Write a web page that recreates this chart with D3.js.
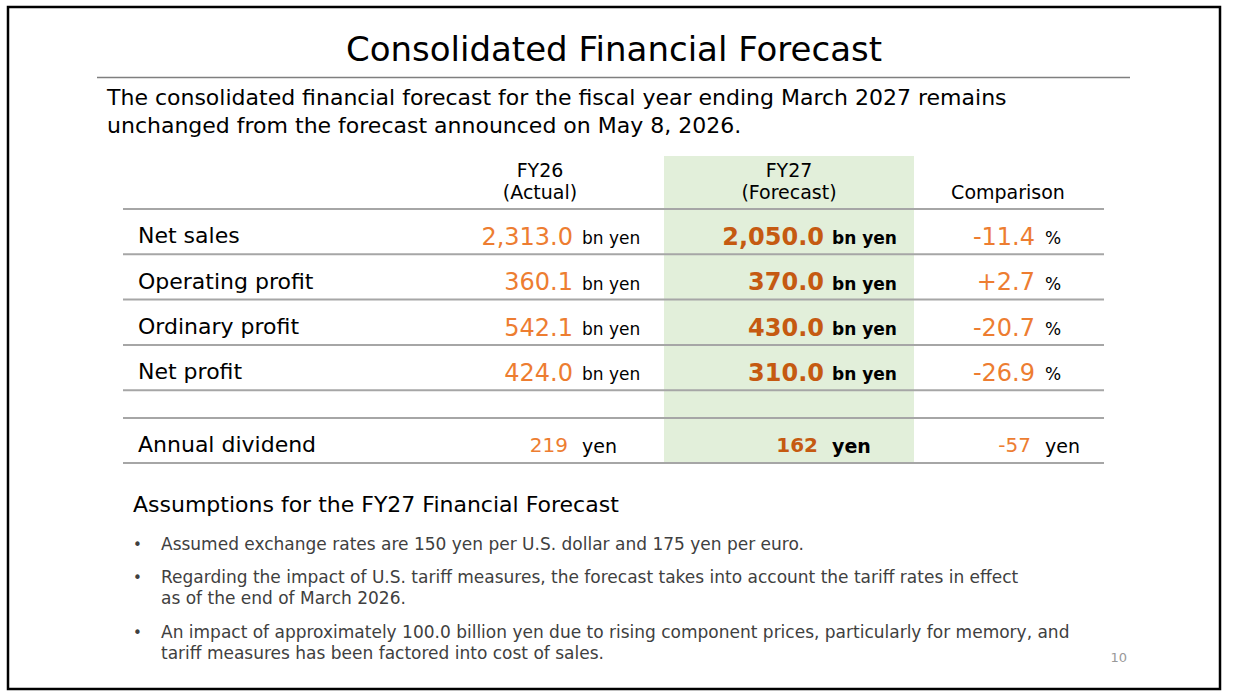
<!DOCTYPE html>
<html>
<head>
<meta charset="utf-8">
<script src="https://cdn.jsdelivr.net/npm/d3@7"></script>
<style>
  html, body { margin: 0; padding: 0; background: #fff; }
  svg { display: block; font-family: "DejaVu Sans", "Verdana", sans-serif; }
</style>
</head>
<body>
<div id="chart"></div>
<script>
// data
const title = "Consolidated Financial Forecast";
const subtitleLines = [
  "The consolidated financial forecast for the fiscal year ending March 2027 remains",
  "unchanged from the forecast announced on May 8, 2026.",
];
const columnKeys = ["fy26", "fy27", "cmp"];
const columnHeaders = [["FY26", "(Actual)"], ["FY27", "(Forecast)"], ["Comparison"]];
const metrics = ["Net sales", "Operating profit", "Ordinary profit", "Net profit"];
const fy26Values = [2313.0, 360.1, 542.1, 424.0];
const fy27Values = [2050.0, 370.0, 430.0, 310.0];
const comparisonPct = [-11.4, 2.7, -20.7, -26.9];
const metricUnits = ["bn yen", "bn yen", "%"];
const dividendLabel = "Annual dividend";
const dividendValues = [219, 162, -57];
const dividendUnit = "yen";
const assumptionsTitle = "Assumptions for the FY27 Financial Forecast";
const assumptions = [
  ["Assumed exchange rates are 150 yen per U.S. dollar and 175 yen per euro."],
  ["Regarding the impact of U.S. tariff measures, the forecast takes into account the tariff rates in effect",
   "as of the end of March 2026."],
  ["An impact of approximately 100.0 billion yen due to rising component prices, particularly for memory, and",
   "tariff measures has been factored into cost of sales."],
];
const pageNumber = "10";

const orange = "#ed7d31";
const darkOrange = "#c55a11";
const green = "#e2efda";
const lineGray = "#a6a6a6";

const width = 1238;
const height = 697;

const locale = d3.formatLocale({ decimal: ".", thousands: ",", grouping: [3], currency: ["", ""], minus: "-" });
const fmtValue = locale.format(",.1f");
const fmtPct = locale.format("+.1f");
const fmtInt = locale.format("d");

const svg = d3.select("#chart").append("svg")
  .attr("width", width)
  .attr("height", height);

// frame
svg.append("rect")
  .attr("x", 8).attr("y", 7)
  .attr("width", 1212).attr("height", 682)
  .attr("fill", "#fff")
  .attr("stroke", "#000")
  .attr("stroke-width", 2.5);

// title
svg.append("text")
  .attr("x", 614).attr("y", 61)
  .attr("text-anchor", "middle")
  .style("font-size", "34px")
  .attr("fill", "#000")
  .text(title);

svg.append("line")
  .attr("x1", 97).attr("x2", 1130)
  .attr("y1", 77.5).attr("y2", 77.5)
  .attr("stroke", "#7f7f7f").attr("stroke-width", 1.5);

svg.append("g")
  .selectAll("text")
  .data(subtitleLines)
  .join("text")
  .attr("x", 107)
  .attr("y", (d, i) => 105 + i * 28)
  .style("font-size", "22px")
  .attr("fill", "#000")
  .text((d) => d);

// table scales
const rowScale = d3.scaleLinear().domain([0, 1]).range([209, 254.3]);
const dividendTop = 418;
const dividendBottom = 463;

// value right edge / unit start per column
const valueEnd = d3.scaleOrdinal().domain(columnKeys).range([573, 824, 1035]);
const unitStart = d3.scaleOrdinal().domain(columnKeys).range([582, 832, 1045]);
const headerX = d3.scaleOrdinal().domain(columnKeys).range([540, 789, 1008]);

const table = svg.append("g");

// green forecast column
table.append("rect")
  .attr("x", 664).attr("width", 250)
  .attr("y", 156).attr("height", dividendBottom - 156)
  .attr("fill", green);

// headers
const headers = table.append("g")
  .selectAll("text")
  .data(columnKeys)
  .join("text")
  .attr("x", (d) => headerX(d))
  .attr("text-anchor", "middle")
  .style("font-size", "19px")
  .attr("fill", "#000");

headers.selectAll("tspan")
  .data((d, i) => columnHeaders[i].map((t, j, arr) => ({ t, j, n: arr.length, key: d })))
  .join("tspan")
  .attr("x", (d) => headerX(d.key))
  .attr("y", (d) => (d.n === 1 ? 199 : 177 + d.j * 22))
  .text((d) => d.t);

// horizontal rules
const ruleYs = d3.range(0, metrics.length + 1).map((i) => rowScale(i)).concat([dividendTop, dividendBottom]);
table.append("g")
  .selectAll("line")
  .data(ruleYs)
  .join("line")
  .attr("x1", 123).attr("x2", 1104)
  .attr("y1", (d) => d).attr("y2", (d) => d)
  .attr("stroke", lineGray)
  .attr("stroke-width", 2);

// metric rows
const rows = metrics.map((m, i) => ({
  label: m,
  cy: (rowScale(i) + rowScale(i + 1)) / 2 + 5,
  cells: [
    { key: "fy26", text: fmtValue(fy26Values[i]), unit: metricUnits[0] },
    { key: "fy27", text: fmtValue(fy27Values[i]), unit: metricUnits[1] },
    { key: "cmp", text: fmtPct(comparisonPct[i]), unit: metricUnits[2] },
  ],
}));

const rowG = table.append("g")
  .selectAll("g")
  .data(rows)
  .join("g")
  .attr("transform", (d) => `translate(0,${d.cy})`);

rowG.append("text")
  .attr("x", 138)
  .attr("dy", "0.3em")
  .style("font-size", "22px")
  .attr("fill", "#000")
  .text((d) => d.label);

const cell = rowG.selectAll("g.cell")
  .data((d) => d.cells)
  .join("g")
  .attr("class", "cell");

cell.append("text")
  .attr("x", (d) => valueEnd(d.key))
  .attr("dy", "0.35em")
  .attr("text-anchor", "end")
  .style("font-size", "24px")
  .style("font-weight", (d) => (d.key === "fy27" ? "bold" : "normal"))
  .attr("fill", (d) => (d.key === "fy27" ? darkOrange : orange))
  .text((d) => d.text);

cell.append("text")
  .attr("x", (d) => unitStart(d.key))
  .attr("dy", "0.45em")
  .style("font-size", "17px")
  .style("font-weight", (d) => (d.key === "fy27" ? "bold" : "normal"))
  .attr("fill", "#000")
  .text((d) => d.unit);

// dividend row
const divY = (dividendTop + dividendBottom) / 2 + 5;
const divG = table.append("g").attr("transform", `translate(0,${divY})`);

divG.append("text")
  .attr("x", 138)
  .attr("dy", "0.3em")
  .style("font-size", "22px")
  .attr("fill", "#000")
  .text(dividendLabel);

const divCells = divG.selectAll("g.dcell")
  .data(columnKeys.map((k, i) => ({ key: k, text: fmtInt(dividendValues[i]) })))
  .join("g")
  .attr("class", "dcell");

divCells.append("text")
  .attr("x", (d) => unitStart(d.key) - 14)
  .attr("dy", "0.3em")
  .attr("text-anchor", "end")
  .style("font-size", "20px")
  .style("font-weight", (d) => (d.key === "fy27" ? "bold" : "normal"))
  .attr("fill", (d) => (d.key === "fy27" ? darkOrange : orange))
  .text((d) => d.text);

divCells.append("text")
  .attr("x", (d) => unitStart(d.key))
  .attr("dy", "0.4em")
  .style("font-size", "19px")
  .style("font-weight", (d) => (d.key === "fy27" ? "bold" : "normal"))
  .attr("fill", "#000")
  .text(dividendUnit);

// assumptions
svg.append("text")
  .attr("x", 133).attr("y", 512)
  .style("font-size", "22px")
  .attr("fill", "#000")
  .text(assumptionsTitle);

const bulletTops = [550, 583, 638];
const bullets = svg.append("g")
  .selectAll("g")
  .data(assumptions)
  .join("g")
  .attr("transform", (d, i) => `translate(0,${bulletTops[i]})`);

bullets.append("text")
  .attr("x", 133)
  .style("font-size", "15px")
  .attr("fill", "#404040")
  .text("•");

bullets.selectAll("text.line")
  .data((d) => d)
  .join("text")
  .attr("class", "line")
  .attr("x", 161)
  .attr("y", (d, i) => i * 21)
  .style("font-size", "17px")
  .attr("fill", "#404040")
  .text((d) => d);

svg.append("text")
  .attr("x", 1127).attr("y", 662)
  .attr("text-anchor", "end")
  .style("font-size", "13px")
  .attr("fill", "#999")
  .text(pageNumber);
</script>
</body>
</html>
